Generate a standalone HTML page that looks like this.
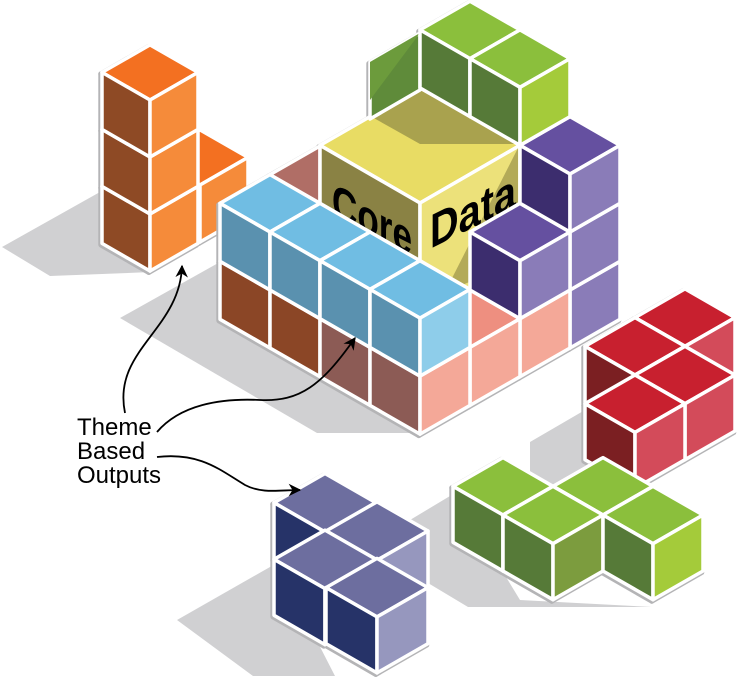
<!DOCTYPE html>
<html><head><meta charset="utf-8"><style>
html,body{margin:0;padding:0;background:#fff;}
svg{display:block;}
</style></head><body>
<svg id="s" width="740" height="682" viewBox="0 0 740 682"></svg>
<script>
let out='';
function P(pts){return pts.map(p=>p[0].toFixed(1)+','+p[1].toFixed(1)).join(' ');}
function cube(cx,cy,a,h,c){
  const b=a*0.574, it=[];
  if(c[0]) it.push({p:[[cx,cy],[cx+a,cy-b],[cx,cy-2*b],[cx-a,cy-b]],f:c[0],s:1});
  if(c[1]) it.push({p:[[cx,cy],[cx-a,cy-b],[cx-a,cy-b+h],[cx,cy+h]],f:c[1],s:1});
  if(c[2]) it.push({p:[[cx,cy],[cx+a,cy-b],[cx+a,cy-b+h],[cx,cy+h]],f:c[2],s:1});
  return it;
}
function group(items){
  out+='<g transform="translate(-1.2,1.5)">';
  items.forEach(o=>{if(o.s) out+=`<polygon points="${P(o.p)}" fill="#b4b4b6" stroke="#b4b4b6" stroke-width="5" stroke-linejoin="round"/>`;});
  out+='</g>';
  items.forEach(o=>{
    if(o.raw){out+=o.raw;return;}
    if(o.s) out+=`<polygon points="${P(o.p)}" fill="${o.f}" stroke="#fff" stroke-width="3.5" stroke-linejoin="round"/>`;
    else out+=`<polygon points="${P(o.p)}" fill="${o.f}"/>`;
  });
}
const sh='#d0d0d2';
[[[2,247],[100,192],[152,272],[50,276]],
 [[120,318],[220,262],[420,380],[420,433],[317,433]],
 [[530,442],[585,410],[592,478],[552,490],[530,480]],
 [[410,520],[455,493],[520,600],[652,607],[468,607],[428,583],[428,532]],
 [[177,620],[277,563],[335,676],[253,676]]
].forEach(p=>out+=`<polygon points="${P(p)}" fill="${sh}"/>`);

const OR=['#F37021','#8E4A25','#F58B3A'];
let it=[];
it=it.concat(cube(200,185,48,57,OR));
it=it.concat(cube(150,214,48,57,OR),cube(150,157,48,57,OR),cube(150,100,48,57,OR));
group(it);

const C=(i,j,k)=>[270+(i-j)*50,232+(i+j)*28.7-(k-1)*58];
const cc=(i,j,k,cols)=>{const q=C(i,j,k);return cube(q[0],q[1],50,58,cols);};
const PUR=['#6550A0','#3C2D6E','#8A7CB8'];
const BLU=['#70BDE3','#5A91AF','#8ECDEA'];
const GRN=['#8BBF3C','#567A38','#A4CB3A'];
it=[];
it=it.concat(cc(3,-3,0,PUR),cc(3,-2,0,['#EE8F80','#B5736A','#F4A898']),cc(3,-1,0,['#EE8F80','#B5736A','#F4A898']));
it=it.concat(cc(0,0,0,[null,'#8B4626',null]),cc(1,0,0,[null,'#8B4626',null]),cc(2,0,0,[null,'#8C5B55',null]),cc(3,0,0,[null,'#8C5B55','#F4A898']));
it=it.concat(cc(3,-3,1,PUR));
it.push({p:[[270,174.6],[320,146],[320,204],[270,232.6]],f:'#B06E66',s:1});
it.push({p:[[420,203],[520,145.3],[420,88],[320,145.3]],f:'#E8DC64',s:1});
it.push({p:[[420,203],[320,145.3],[320,261],[420,319]],f:'#8A8244',s:1});
it.push({p:[[420,203],[520,145.3],[520,261],[420,319]],f:'#ECE17A',s:1});
it.push({p:[[372,117],[420,90],[518,144],[420,144]],f:'#A9A24E'});
it.push({p:[[518,148],[445,292],[518,262]],f:'#B3AA58'});
it.push({raw:'<text transform="matrix(1,0.5,0,1,332,216)" font-family="Liberation Sans, sans-serif" font-size="48" font-weight="bold" textLength="80" lengthAdjust="spacingAndGlyphs">Core</text>'});
it.push({raw:'<text transform="matrix(1,-0.5,0,1,430,249)" font-family="Liberation Sans, sans-serif" font-size="48" font-weight="bold" textLength="86" lengthAdjust="spacingAndGlyphs">Data</text>'});
for(let i=0;i<4;i++) it=it.concat(cc(i,0,1,BLU));
it=it.concat(cc(3,-2,1,PUR),cc(3,-3,2,PUR));
it.push({p:[[370,62],[420,33],[420,90],[370,119]],f:'#5F8B3A',s:1});
it.push({p:[[370,62],[420,33],[370,100]],f:'#6C9B3C'});
it=it.concat(cc(1,-3,3,GRN),cc(2,-3,3,GRN));
group(it);

const RED=['#C8202F','#7B1F22','#D34B5A'];
const R=(i,j)=>[635+(i-j)*50,375+(i+j)*28.7];
it=[];
[[0,-1],[0,0],[1,0],[1,1]].forEach(q=>{const p=R(q[0],q[1]);it=it.concat(cube(p[0],p[1],50,56,RED));});
group(it);

const G=(i,j)=>[503+(i-j)*50,515+(i+j)*28.7];
it=[];
[[0,0,GRN],[1,-1,GRN],[1,0,['#8BBF3C','#567A38','#7C9C3E']],[2,-1,GRN]].forEach(q=>{const p=G(q[0],q[1]);it=it.concat(cube(p[0],p[1],50,56,q[2]));});
group(it);

const NAV=['#6D6E9F','#263368','#9697BE'];
const N=(i,j)=>[325+(i-j)*52,532+(i+j)*28.3];
it=[];
[[0,0],[1,0],[1,1],[2,1]].forEach(q=>{const p=N(q[0],q[1]);it=it.concat(cube(p[0],p[1],51,56,NAV));});
group(it);

out+='<defs><marker id="ah" viewBox="0 0 10 10" refX="9" refY="5" markerWidth="7" markerHeight="7" orient="auto"><path d="M0,0 L10,5 L0,10 L3,5z" fill="#000"/></marker></defs>';
['M125,413 C112,350 180,330 182,266',
 'M157,432 C180,405 220,398 260,400 C300,402 322,385 355,338',
 'M157,457 C200,452 220,470 245,485 C262,494 280,490 300,490'
].forEach(d=>out+=`<path d="${d}" fill="none" stroke="#000" stroke-width="1.8" marker-end="url(#ah)"/>`);
out+='<g font-family="Liberation Sans, sans-serif" font-size="24" fill="#000"><text x="77" y="435">Theme</text><text x="77" y="459">Based</text><text x="77" y="483">Outputs</text></g>';
document.getElementById('s').innerHTML=out;
</script>
</body></html>
